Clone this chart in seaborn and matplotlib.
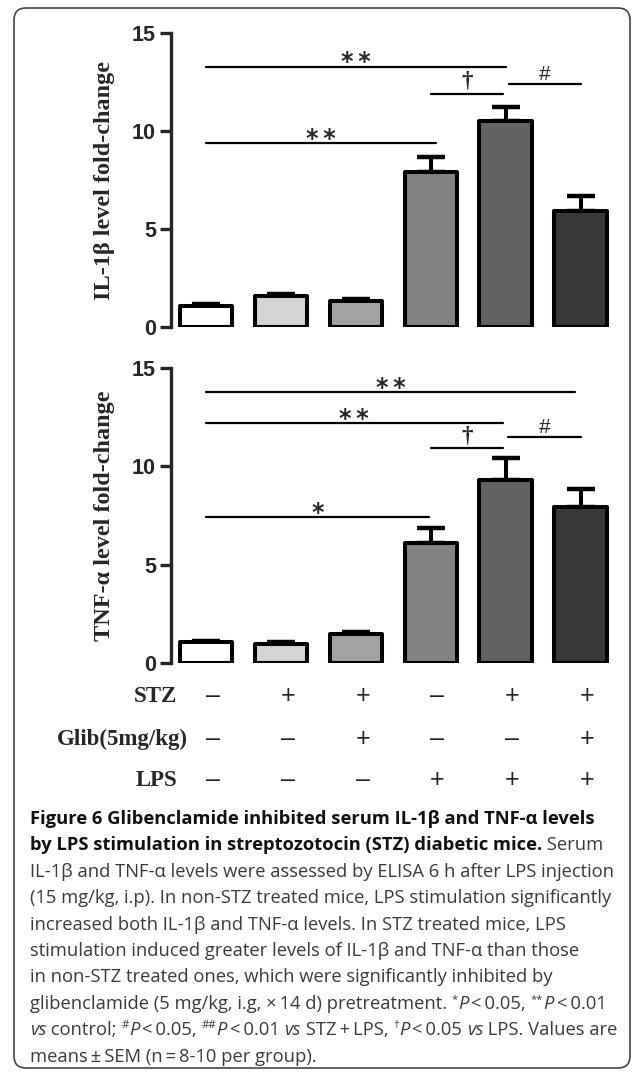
import numpy as np
import pandas as pd
import matplotlib
matplotlib.use("Agg")
import matplotlib.pyplot as plt
import seaborn as sns
from matplotlib.patches import FancyBboxPatch
from matplotlib.transforms import blended_transform_factory

# data
groups = ['Control', 'STZ', 'STZ+Glib', 'LPS', 'STZ+LPS', 'STZ+Glib+LPS']
il1b_mean = [1.05, 1.55, 1.3, 7.9, 10.5, 5.9]
il1b_sem = [0.1, 0.12, 0.1, 0.8, 0.72, 0.78]
tnf_mean = [1.05, 0.95, 1.45, 6.1, 9.3, 7.95]
tnf_sem = [0.08, 0.1, 0.12, 0.75, 1.12, 0.88]
bar_colors = ['#ffffff', '#d4d4d4', '#a2a2a2', '#828282', '#636363', '#373737']

# significance brackets: (from bar, to bar, height, label)
il1b_sig = [(0, 4, 13.3, '**'), (3, 3.97, 11.9, '†'), (4.04, 5, 12.4, '#'), (0, 3.07, 9.4, '**')]
tnf_sig = [(0, 4.93, 13.78, '**'), (0, 3.96, 12.23, '**'), (4.03, 5, 11.52, '#'),
           (3, 3.97, 10.92, '†'), (0, 2.97, 7.4, '*')]

stz_signs = ['–', '+', '+', '–', '+', '+']
glib_signs = ['–', '–', '+', '–', '–', '+']
lps_signs = ['–', '–', '–', '+', '+', '+']

ts = '\u2009'  # thin space, as in the printed caption
caption = [
    [('b', 'Figure 6 Glibenclamide inhibited serum IL-1β and TNF-α levels')],
    [('b', 'by LPS stimulation in streptozotocin (STZ) diabetic mice.'), ('n', ' Serum')],
    [('n', 'IL-1β and TNF-α levels were assessed by ELISA 6 h after LPS injection')],
    [('n', '(15 mg/kg, i.p). In non-STZ treated mice, LPS stimulation significantly')],
    [('n', 'increased both IL-1β and TNF-α levels. In STZ treated mice, LPS')],
    [('n', 'stimulation induced greater levels of IL-1β and TNF-α than those')],
    [('n', 'in non-STZ treated ones, which were significantly inhibited by')],
    [('n', f'glibenclamide (5 mg/kg, i.g, ×{ts}14 d) pretreatment. '), ('s', '*'), ('i', 'P'),
     ('n', f'{ts}<{ts}0.05, '), ('s', '**'), ('i', 'P'), ('n', f'{ts}<{ts}0.01')],
    [('i', 'vs'), ('n', ' control; '), ('s', '#'), ('i', 'P'), ('n', f'{ts}<{ts}0.05, '), ('s', '##'),
     ('i', 'P'), ('n', f'{ts}<{ts}0.01 '), ('i', 'vs'), ('n', f' STZ{ts}+{ts}LPS, '), ('s', '†'),
     ('i', 'P'), ('n', f'{ts}<{ts}0.05 '), ('i', 'vs'), ('n', ' LPS. Values are')],
    [('n', f'means{ts}±{ts}SEM (n{ts}={ts}8-10 per group).')],
]

sns.set_style("ticks")
W, H = 633, 1072
fig = plt.figure(figsize=(W / 100, H / 100), dpi=100)

ax_left, ax_right = 170.5, 610.5
ax1 = fig.add_axes([ax_left / W, 1 - 326.7 / H, (ax_right - ax_left) / W, 293.4 / H])
ax2 = fig.add_axes([ax_left / W, 1 - 662.7 / H, (ax_right - ax_left) / W, 294.4 / H])


def draw_panel(ax, means, sems, ylabel, sig):
    df = pd.DataFrame({'group': groups, 'value': means})
    sns.barplot(data=df, x='group', y='value', hue='group', palette=bar_colors,
                width=0.7, edgecolor='black', linewidth=2.9, legend=False,
                ax=ax, zorder=3)
    for p in ax.patches:
        p.set_joinstyle('round')
    eb = ax.errorbar(np.arange(len(groups)), means, yerr=[np.zeros(len(groups)), sems],
                     fmt='none', ecolor='black', elinewidth=2.9, capsize=10, capthick=3.2,
                     zorder=2)
    for cap in eb[1]:
        cap.set_solid_capstyle('round')
    ax.set_xlim(-0.475, 5.4)
    ax.set_ylim(0, 15)
    ax.set_xticks([])
    ax.set_xlabel('')
    ax.set_ylabel('')
    ax.set_yticks([0, 5, 10, 15])
    ax.set_yticklabels(['0', '5', '10', '15'], fontfamily='Liberation Sans',
                       fontweight='bold', fontsize=15.5)
    ax.tick_params(axis='y', length=8, width=2.4, pad=2.5)
    for side in ['top', 'right', 'bottom']:
        ax.spines[side].set_visible(False)
    ax.spines['left'].set_linewidth(2.4)
    ax.spines['left'].set_bounds(0, 15)
    ax.text(-0.149, 0.5, ylabel, transform=ax.transAxes, rotation=90,
            ha='center', va='center', fontfamily='Liberation Serif',
            fontweight='bold', fontsize=17.5)
    for x1, x2, y, lab in sig:
        ax.plot([x1, x2], [y, y], color='black', lw=1.6, clip_on=False)
        xm = (x1 + x2) / 2
        if lab.startswith('*'):
            ax.text(xm, y - 0.15, '\u2009'.join(lab), ha='center', va='baseline',
                    fontfamily='DejaVu Sans', fontweight='bold', fontsize=17)
        elif lab == '†':
            ax.text(xm, y + 0.34, lab, ha='center', va='baseline',
                    fontfamily='Liberation Serif', fontweight='bold', fontsize=16.5)
        else:
            ax.text(xm, y + 0.2, lab, ha='center', va='baseline',
                    fontfamily='Liberation Sans', fontsize=15)


draw_panel(ax1, il1b_mean, il1b_sem, 'IL-1β level fold-change', il1b_sig)
draw_panel(ax2, tnf_mean, tnf_sem, 'TNF-α level fold-change', tnf_sig)

# treatment rows under the bottom panel
trans = blended_transform_factory(ax2.transData, fig.transFigure)
rows = [('STZ', stz_signs, 696, 177), ('Glib(5mg/kg)', glib_signs, 739, 188),
        ('LPS', lps_signs, 780, 177)]
for label, signs, ypx, xr in rows:
    fig.text(xr / W, 1 - ypx / H, label, ha='right', va='center',
             fontfamily='Liberation Serif', fontweight='bold', fontsize=16.5)
    for i, s in enumerate(signs):
        ax2.text(i + 0.09, 1 - ypx / H, s, transform=trans, ha='center', va='center',
                 fontfamily='Liberation Sans', fontsize=18, color='#222222')

# caption, drawn piece by piece
fig.canvas.draw()
renderer = fig.canvas.get_renderer()
cap_size = 13.2
cap_fonts = ['Open Sans', 'DejaVu Sans']
styles = {
    'b': dict(fontweight='bold', color='#111111'),
    'n': dict(color='#3a3a3a'),
    'i': dict(fontstyle='italic', color='#3a3a3a'),
}
for k, line in enumerate(caption):
    x = 30
    base = 824 + k * 26.4
    for st, txt in line:
        if st == 's':
            t = fig.text(x / W, 1 - (base - 7) / H, txt, family=cap_fonts,
                         fontsize=cap_size * 0.62, color='#3a3a3a', va='baseline')
        else:
            t = fig.text(x / W, 1 - base / H, txt, family=cap_fonts,
                         fontsize=cap_size, va='baseline', **styles[st])
        x += t.get_window_extent(renderer).width

# rounded frame round the whole figure
frame = FancyBboxPatch((0.14, 0.04), 6.16, 10.60, boxstyle='round,pad=0,rounding_size=0.12',
                       transform=fig.dpi_scale_trans, fill=False, edgecolor='#444444',
                       linewidth=1.2)
fig.patches.append(frame)

fig.savefig('out.png', dpi=100)
